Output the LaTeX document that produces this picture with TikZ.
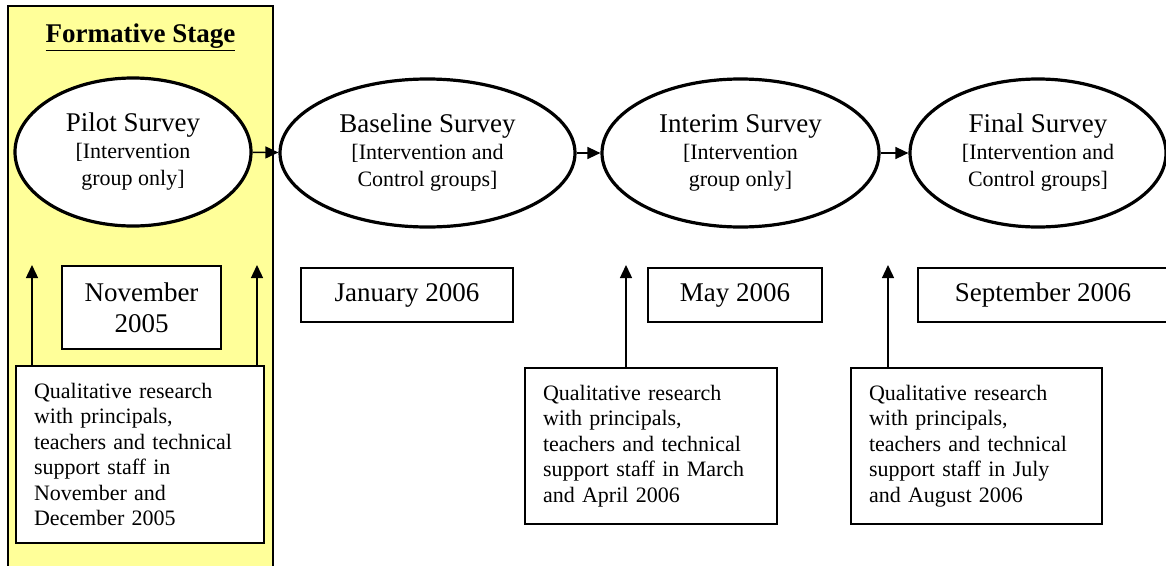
\documentclass[tikz,border=0pt]{standalone}
\usepackage{fontspec}
\setmainfont{Liberation Serif}
\usetikzlibrary{shapes.geometric,arrows.meta}
\definecolor{stageyellow}{HTML}{FFFF99}

\begin{document}
\begin{tikzpicture}[x=1pt,y=-1pt]

  \tikzstyle{survey}=[draw,ellipse,line width=3.2pt,fill=white,inner sep=0,minimum height=148pt,align=center,font=\fontsize{22}{27}\selectfont]
  \tikzstyle{datebox}=[draw,line width=2pt,fill=white,minimum height=54pt,align=center,font=\fontsize{27}{31}\selectfont]
  \tikzstyle{qualbox}=[draw,line width=2pt,fill=white,align=left,inner xsep=18pt,font=\fontsize{22}{25.5}\selectfont]
  \tikzstyle{flow}=[-{Triangle[length=13pt,width=12pt]},line width=1.4pt]

  \useasboundingbox (0,0) rectangle (1166,565);

  % formative stage panel
  \path[fill=stageyellow,draw,line width=1.2pt] (8,6) rectangle (273,580);
  \node[font=\fontsize{27}{31}\selectfont\bfseries] (stagetitle) at (140.5,37) {\underline{Formative Stage}};

  \path
  (133,152) node[survey,minimum width=236pt](pilot){{\fontsize{27}{30}\selectfont Pilot Survey}\\{}[Intervention\\group only]}
  (427.5,153) node[survey,minimum width=295pt](baseline){{\fontsize{27}{30}\selectfont Baseline Survey}\\{}[Intervention and\\Control groups]}
  (740.5,153) node[survey,minimum width=277pt](interim){{\fontsize{27}{30}\selectfont Interim Survey}\\{}[Intervention\\group only]}
  (1038,153) node[survey,minimum width=256pt](final){{\fontsize{27}{30}\selectfont Final Survey}\\{}[Intervention and\\Control groups]};

  \path
  (141.5,307.5) node[datebox,minimum width=159pt,minimum height=83pt](novbox){November\\2005}
  (407,295) node[datebox,minimum width=212pt](janbox){January 2006}
  (735,295) node[datebox,minimum width=174pt](maybox){May 2006}
  (1043,295) node[datebox,minimum width=250pt](sepbox){September 2006};

  \path
  (140,454.5) node[qualbox,text width=212pt,minimum height=177pt](qualnov){Qualitative research\\with principals,\\teachers and technical\\support staff in\\November and\\December 2005}
  (651,446) node[qualbox,text width=216pt,minimum height=156pt](qualmar){Qualitative research\\with principals,\\teachers and technical\\support staff in March\\and April 2006}
  (976.5,446) node[qualbox,text width=215pt,minimum height=156pt](qualjul){Qualitative research\\with principals,\\teachers and technical\\support staff in July\\and August 2006};

  \coordinate (tipa) at (32,265);
  \coordinate (tipb) at (257,265);
  \coordinate (tipc) at (626,265);
  \coordinate (tipd) at (888,265);

  \draw[flow] (pilot)--(baseline);
  \draw[flow] (baseline)--(interim);
  \draw[flow] (interim)--(final);

  \draw[flow] (qualnov.north -| tipa)--(tipa);
  \draw[flow] (qualnov.north -| tipb)--(tipb);
  \draw[flow] (qualmar.north -| tipc)--(tipc);
  \draw[flow] (qualjul.north -| tipd)--(tipd);
\end{tikzpicture}
\end{document}
